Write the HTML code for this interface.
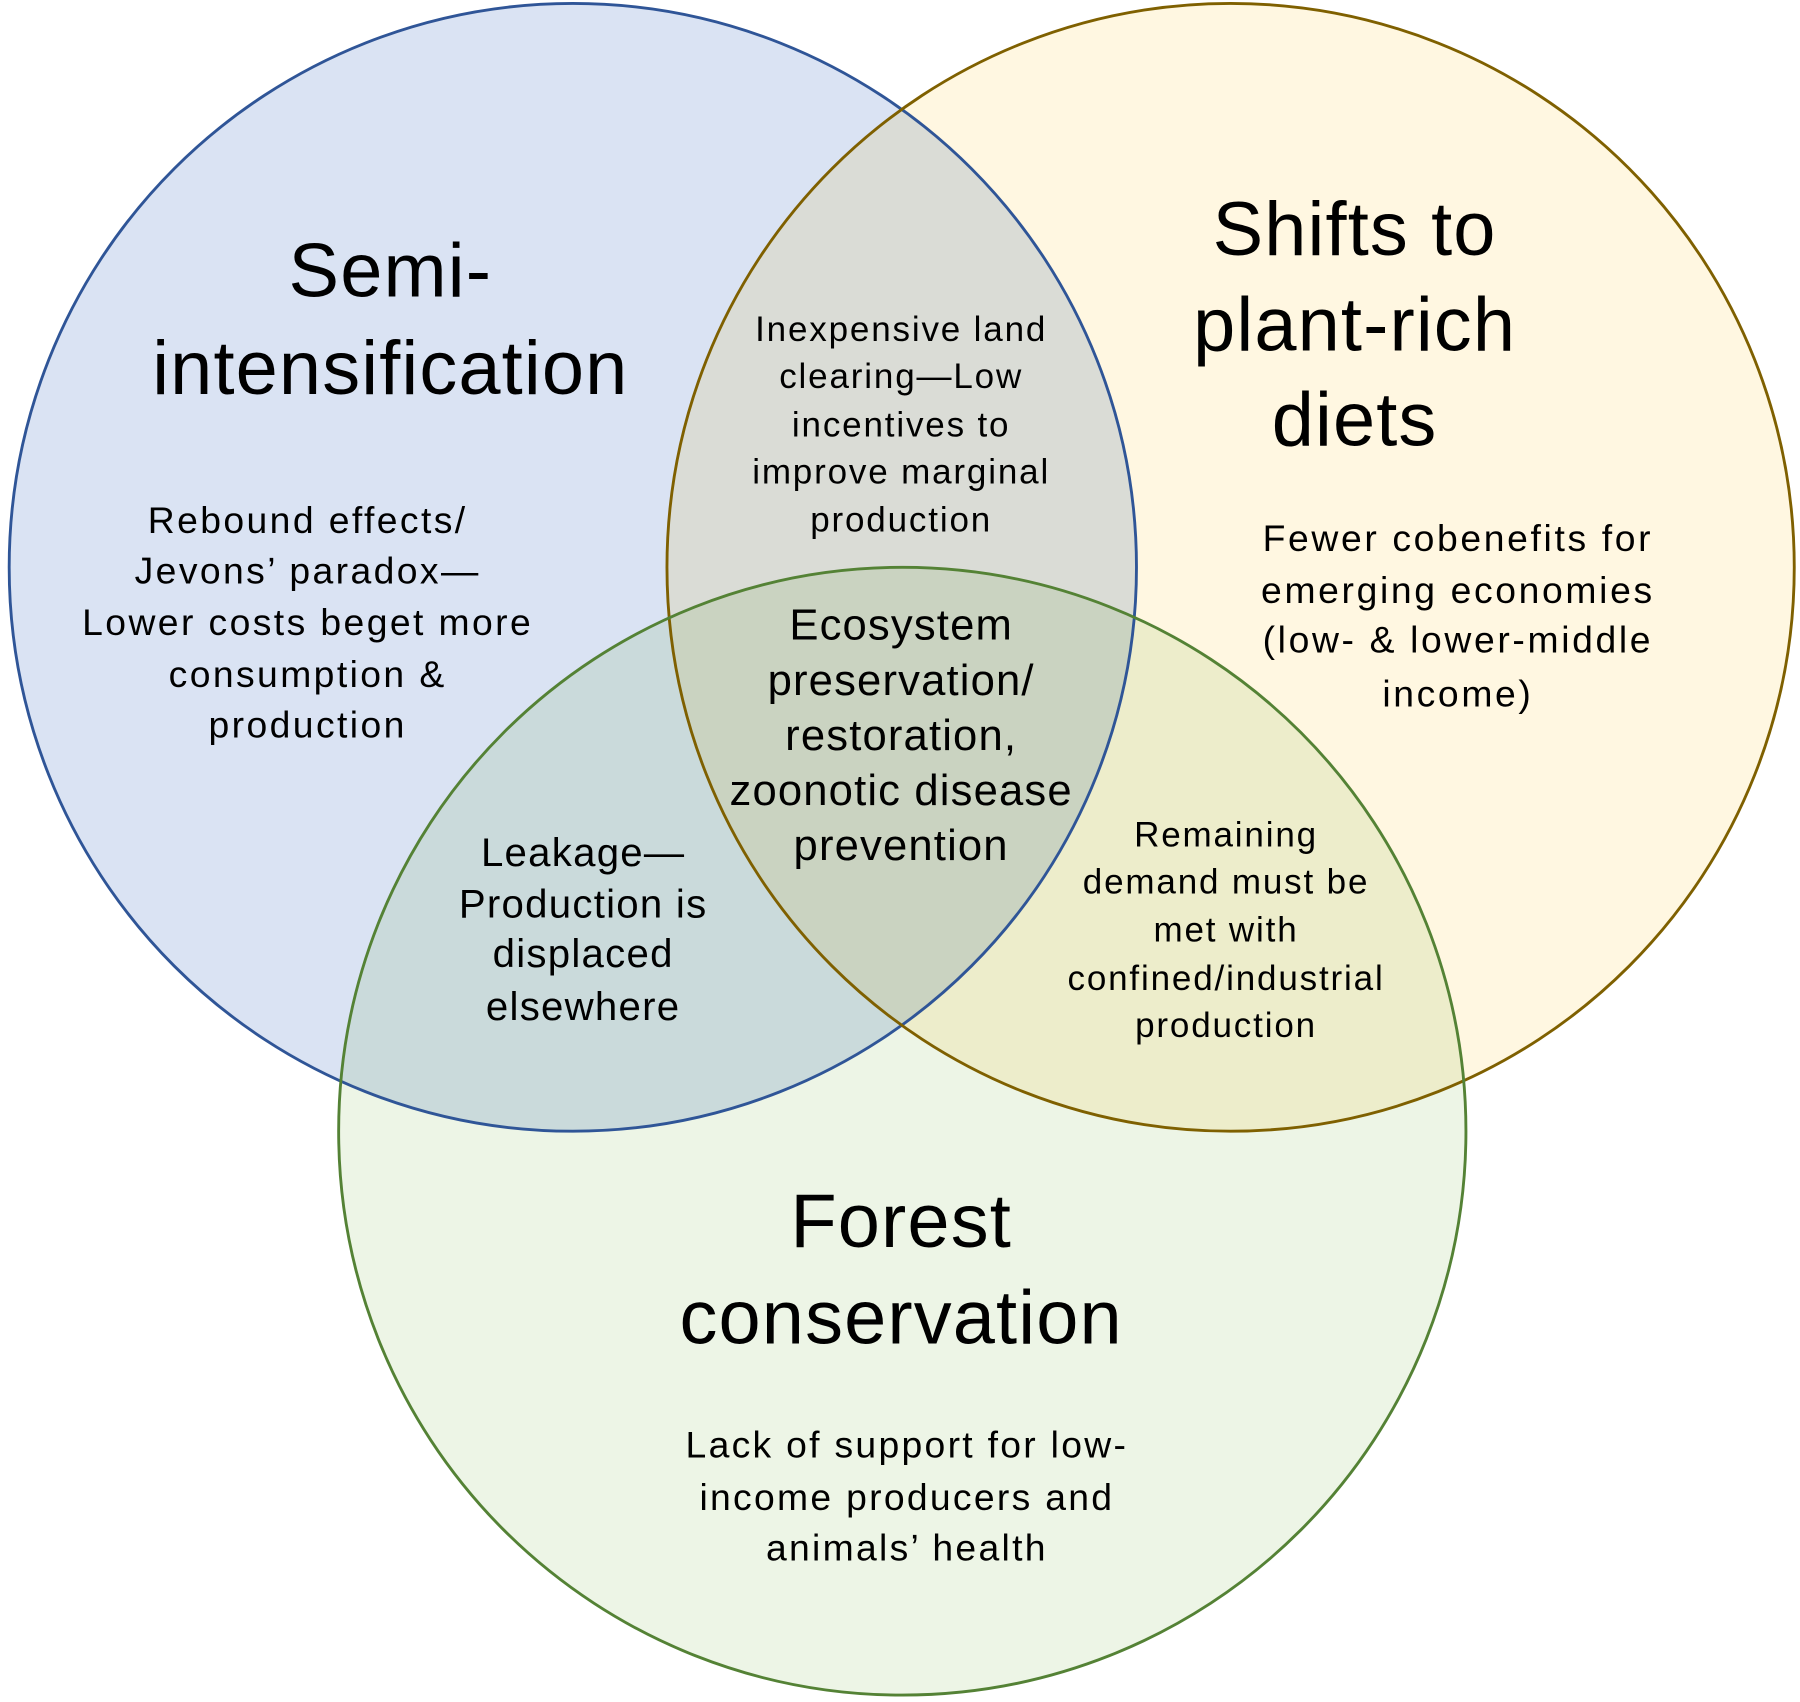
<!DOCTYPE html>
<html><head><meta charset="utf-8"><style>
html,body{margin:0;padding:0;background:#fff;}
svg{display:block;}
text{font-family:"Liberation Sans",Arial,sans-serif;fill:#000;text-anchor:middle;}
</style></head><body>
<svg width="1800" height="1702" viewBox="0 0 1568 1482" preserveAspectRatio="none" xmlns="http://www.w3.org/2000/svg">
<rect width="1568" height="1482" fill="#fff"/>
<g style="isolation:isolate">
<circle cx="499" cy="494" r="491" fill="#dae3f3" style="mix-blend-mode:multiply"/>
<circle cx="1072" cy="494" r="491" fill="#fff7e1" style="mix-blend-mode:multiply"/>
<circle cx="786" cy="985" r="491" fill="#edf5e6" style="mix-blend-mode:multiply"/>
</g>
<circle cx="499" cy="494" r="491" fill="none" stroke="#2f5597" stroke-width="2.5"/>
<circle cx="1072" cy="494" r="491" fill="none" stroke="#7f6000" stroke-width="2.5"/>
<circle cx="786" cy="985" r="491" fill="none" stroke="#548235" stroke-width="2.5"/>

<g font-size="66" letter-spacing="1">
<text x="340" y="258">Semi-</text>
<text x="340" y="343">intensification</text>
<text x="1180" y="222">Shifts to</text>
<text x="1180" y="305">plant-rich</text>
<text x="1180" y="388">diets</text>
<text x="785" y="1086">Forest</text>
<text x="785" y="1170">conservation</text>
</g>
<g font-size="32.5" letter-spacing="2.1">
<text x="268" y="464">Rebound effects/</text>
<text x="268" y="508">Jevons’ paradox—</text>
<text x="268" y="553">Lower costs beget more</text>
<text x="268" y="598">consumption &amp;</text>
<text x="268" y="642">production</text>
</g>
<g font-size="30.5" letter-spacing="1.6">
<text x="785" y="297">Inexpensive land</text>
<text x="785" y="338">clearing—Low</text>
<text x="785" y="380">incentives to</text>
<text x="785" y="421">improve marginal</text>
<text x="785" y="463">production</text>
</g>
<g font-size="38" letter-spacing="1">
<text x="785" y="557">Ecosystem</text>
<text x="785" y="605">preservation/</text>
<text x="785" y="653">restoration,</text>
<text x="785" y="701">zoonotic disease</text>
<text x="785" y="749">prevention</text>
</g>
<g font-size="32.5" letter-spacing="2.3">
<text x="1270" y="480">Fewer cobenefits for</text>
<text x="1270" y="525">emerging economies</text>
<text x="1270" y="568">(low- &amp; lower-middle</text>
<text x="1270" y="615">income)</text>
</g>
<g font-size="35" letter-spacing="1.1">
<text x="508" y="754">Leakage—</text>
<text x="508" y="799">Production is</text>
<text x="508" y="842">displaced</text>
<text x="508" y="888">elsewhere</text>
</g>
<g font-size="30.5" letter-spacing="1.6">
<text x="1068" y="737">Remaining</text>
<text x="1068" y="778">demand must be</text>
<text x="1068" y="820">met with</text>
<text x="1068" y="862">confined/industrial</text>
<text x="1068" y="903">production</text>
</g>
<g font-size="32.5" letter-spacing="2">
<text x="790" y="1269">Lack of support for low-</text>
<text x="790" y="1315">income producers and</text>
<text x="790" y="1359">animals’ health</text>
</g>
</svg>
</body></html>
